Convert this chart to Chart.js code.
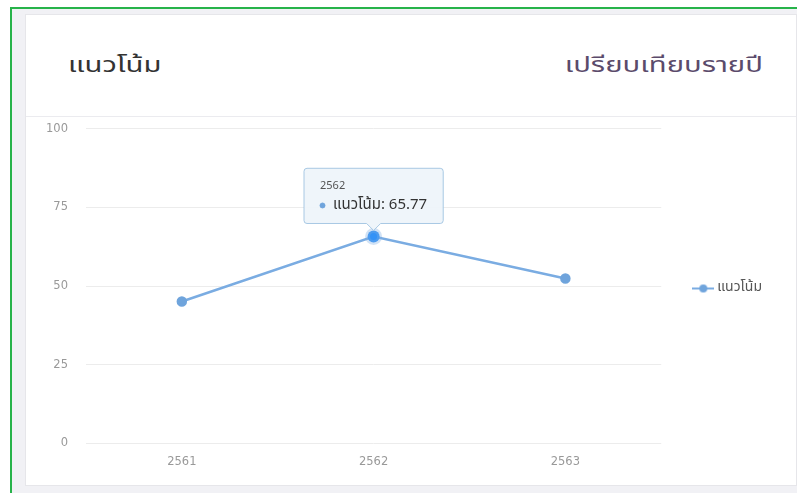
<!DOCTYPE html>
<html><head><meta charset="utf-8">
<script src="https://cdn.jsdelivr.net/npm/chart.js@4"></script>
<style>
html,body{margin:0;padding:0;background:#fff;width:797px;height:493px;overflow:hidden;font-family:"Noto Sans Thai","Noto Sans","DejaVu Sans",sans-serif;}
#frame{position:absolute;left:10px;top:7px;width:800px;height:500px;border-left:2px solid #27b34a;border-top:2px solid #27b34a;background:#f1f1f5;}
#card{position:absolute;left:25px;top:14px;width:770px;height:470px;background:#fff;border:1px solid #e6e6ea;}
#head{position:absolute;left:0;top:0;width:770px;height:101px;border-bottom:1px solid #ebebef;}
#t1{position:absolute;left:42px;top:34px;font-size:22px;color:#333;transform:scaleX(1.33);transform-origin:left center;}
#t2{position:absolute;right:33px;top:34px;font-size:22px;color:#5b4b6b;transform:scaleX(1.33);transform-origin:right center;}
#wrap{position:absolute;left:0px;top:89px;width:770px;height:373px;}
</style></head><body>
<div id="frame"></div>
<div id="card">
<div id="head"><div id="t1">แนวโน้ม</div><div id="t2">เปรียบเทียบรายปี</div></div>
<div id="wrap"><canvas id="c"></canvas></div>
</div>
<script>
const categories = ["2561","2562","2563"];
const seriesName = "แนวโน้ม";
const seriesValues = [45.1, 65.77, 52.4];
const yTicks = [0,25,50,75,100];

const lineColor = "rgba(122,172,226,1)";
function legendIcon(){
  const c=document.createElement('canvas');c.width=22;c.height=10;
  const x=c.getContext('2d');
  x.strokeStyle=lineColor;x.lineWidth=2;x.beginPath();x.moveTo(0,5);x.lineTo(22,5);x.stroke();
  x.fillStyle="#6fa4dc";x.beginPath();x.arc(11,5,4,0,Math.PI*2);x.fill();
  return c;
}
const icon=legendIcon();
const tickFont={size:11.5,family:"DejaVu Sans"};
const chart = new Chart(document.getElementById('c'), {
  type:'line',
  data:{labels:categories,datasets:[{label:seriesName,data:seriesValues,borderColor:lineColor,backgroundColor:"#6fa4dc",borderWidth:2.5,pointRadius:4,pointHoverRadius:6,pointHoverBorderWidth:5,pointHoverBorderColor:"rgba(122,172,226,0.35)",pointBackgroundColor:"#6fa4dc",pointBorderColor:"#6fa4dc",tension:0,fill:false,pointStyle:'circle'}]},
  options:{
    responsive:true,maintainAspectRatio:false,animation:false,
    layout:{padding:{left:2,right:24,top:0,bottom:4}},
    scales:{
      x:{offset:true,grid:{display:false},border:{display:false},ticks:{color:"#999",font:tickFont,padding:4}},
      y:{min:0,max:100,afterBuildTicks:s=>{s.ticks=yTicks.map(v=>({value:v}));},grid:{color:"#ececec",drawTicks:false},border:{display:false},ticks:{color:"#999",font:tickFont,padding:18}}
    },
    plugins:{
      legend:{position:'right',labels:{usePointStyle:true,padding:35,color:"#555",font:{size:14,family:"Noto Sans Thai, Noto Sans"},generateLabels:ch=>[{text:seriesName,pointStyle:icon,fillStyle:lineColor,strokeStyle:lineColor,datasetIndex:0,fontColor:"#555"}]}},
      tooltip:{enabled:true,backgroundColor:"rgba(238,244,250,0.95)",borderColor:"rgba(160,195,225,0.9)",borderWidth:1,titleColor:"#555",bodyColor:"#333",titleFont:{size:11,weight:'normal',family:"Noto Sans"},bodyFont:{size:15,family:"Noto Sans Thai, Noto Sans"},padding:{left:16,right:16,top:11,bottom:9},titleMarginBottom:4,boxPadding:6,cornerRadius:3,caretSize:7,caretPadding:6,yAlign:'bottom',xAlign:'center',usePointStyle:true,boxWidth:5,boxHeight:5,
        callbacks:{labelPointStyle:()=>({pointStyle:'circle',rotation:0}),labelColor:()=>({borderColor:"#6fa4dc",backgroundColor:"#6fa4dc"})}}
    }
  }
});
const meta=chart.getDatasetMeta(0);const p=meta.data[1];
chart.setActiveElements([{datasetIndex:0,index:1}]);
chart.tooltip.setActiveElements([{datasetIndex:0,index:1}],{x:p.x,y:p.y});
chart.update('none');
</script>
</body></html>
